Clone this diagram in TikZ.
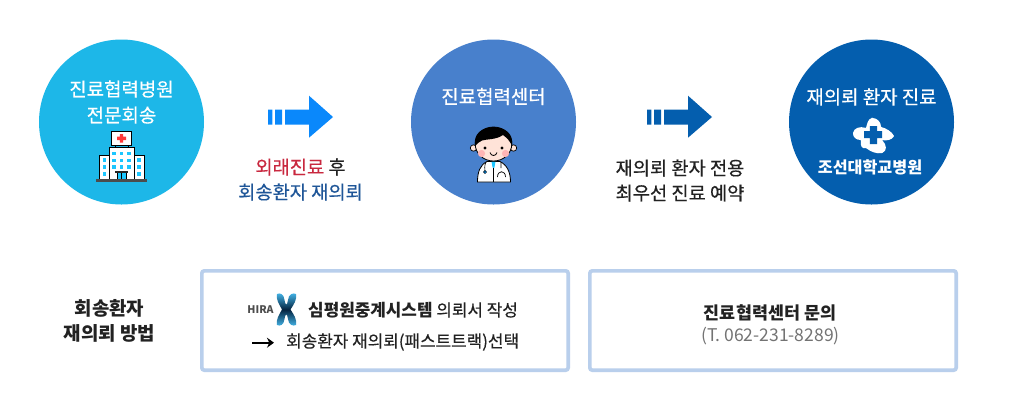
\documentclass[tikz,border=0pt]{standalone}
\usepackage{fontspec}
\setmainfont{Noto Sans CJK KR}
\newfontfamily\medf[FakeBold=0.4]{Noto Sans CJK KR}
\usetikzlibrary{arrows.meta}
\definecolor{cyanc}{HTML}{1DB7E8}
\definecolor{midc}{HTML}{4880CC}
\definecolor{deepc}{HTML}{045EAE}
\definecolor{arrowa}{HTML}{0A88FB}
\definecolor{boxc}{HTML}{B9CFEC}
\definecolor{redt}{HTML}{C9283F}
\definecolor{bluet}{HTML}{1F5698}
\definecolor{darkt}{HTML}{222222}
\definecolor{windowc}{HTML}{1CC6FF}
\definecolor{skin}{HTML}{FFE3D8}
\definecolor{cheek}{HTML}{FFB5B5}
\definecolor{hiralight}{HTML}{45B8EC}
\definecolor{hiradark}{HTML}{04233F}
\tikzset{
  bubble/.style={circle,minimum size=165pt,inner sep=0pt,draw=none},
  lbl/.style={inner sep=0pt,align=center,text=darkt},
  big/.style={font=\medf\fontsize{18.9}{26}\selectfont},
  mid/.style={font=\medf\fontsize{18.7}{25}\selectfont},
  small/.style={font=\medf\fontsize{16.9}{24}\selectfont},
  panel/.style={draw=boxc,line width=3.6pt,rounded corners=2.5pt,fill=white},
  win/.style={fill=windowc,draw=none},
  wall/.style={fill=white,draw=black,line width=.8pt},
}
\begin{document}
\begin{tikzpicture}[x=1pt,y=-1pt]
\useasboundingbox (0,0) rectangle (1009,416);
\fill[white] (0,0) rectangle (1009,416);
% circles
\node[bubble,fill=cyanc] (c1) at (121.5,122) {};
\node[bubble,fill=midc]  (c2) at (493.5,122) {};
\node[bubble,fill=deepc] (c3) at (871.5,122) {};
% circle texts
\node[lbl,big,text=white] (t1) at (121.5,102) {진료협력병원\\전문회송};
\node[lbl,big,text=white] (t2) at (493.5,96.5) {진료협력센터};
\node[lbl,big,text=white] (t3) at (871.5,97) {재의뢰 환자 진료};
\node[lbl,text=white,font=\fontsize{16.2}{20}\selectfont\bfseries] (t4) at (870,167) {조선대학교병원};
% arrows
\fill[arrowa] (268,109.5) rectangle (272.3,124.7) (275,109.5) rectangle (282,124.7);
\fill[arrowa] (285,109.5) -- (309,109.5) -- (309,95.7) -- (333,117) -- (309,137.7) -- (309,124.7) -- (285,124.7) -- cycle;
\fill[deepc] (647,109.5) rectangle (651.3,124.7) (654,109.5) rectangle (661,124.7);
\fill[deepc] (664,109.5) -- (688,109.5) -- (688,95.7) -- (712,117) -- (688,137.7) -- (688,124.7) -- (664,124.7) -- cycle;
% arrow texts
\node[lbl,mid] (a1) at (300.5,179.5) {\textcolor{redt}{외래진료} 후\\\textcolor{bluet}{회송환자 재의뢰}};
\node[lbl,mid] (a2) at (680,180.5) {재의뢰 환자 전용\\최우선 진료 예약};
% hospital icon
\draw[black,line width=.8pt] (115,145) -- (115,148) (128,145) -- (128,148);
\draw[wall] (111.5,131.5) rectangle (131.5,145);
\fill[red!70!pink] (119.8,134) rectangle (123.2,142.5) (117,136.6) rectangle (126,140);
\draw[wall] (99.5,155.5) rectangle (144,179.5);
\draw[wall] (109.5,147.5) rectangle (134,179.5);
\foreach \px in {114,121.5,129} \foreach \py in {153.5,160.5,167}
  \fill[win] (\px-1.8,\py-1.8) rectangle (\px+1.8,\py+1.8);
\foreach \px in {104.5,139} \foreach \py in {160,167,174}
  \fill[win] (\px-1.8,\py-1.8) rectangle (\px+1.8,\py+1.8);
\fill[windowc] (117,173) rectangle (126,179);
\draw[black,line width=.8pt] (117,173) -- (117,179) (121.5,173) -- (121.5,179) (126,173) -- (126,179);
\fill[black!85] (115,171) rectangle (128,173.3);
\fill[black!70] (96,179.3) rectangle (147,182);
% doctor icon
\draw[black,line width=.7pt,fill=skin] (473.5,148) circle[radius=3.2] (513.5,148) circle[radius=3.2];
\draw[black,line width=.8pt,fill=white] (477.5,182) .. controls (477.5,172) and (480,165) .. (487,161.5) -- (500,161.5) .. controls (507,165) and (510.5,172) .. (510.5,182) -- cycle;
\fill[windowc] (491.5,161.5) -- (495.5,161.5) -- (494.5,167) -- (493.5,169) -- (492.5,167) -- cycle;
\draw[black,line width=.6pt] (493.5,168) -- (493.5,182);
\draw[black,line width=.6pt] (486,162) .. controls (484,166) and (485,169) .. (485,172);
\fill[blue!40!cyan,draw=black,line width=.5pt] (485,172) circle[radius=1.6];
\draw[black,line width=.7pt] (501,162) -- (501,168) (497.5,177) .. controls (497.5,170) and (505.5,170) .. (505.5,177);
\fill[skin,draw=black,line width=.8pt] (493.5,144) ellipse[x radius=18.3,y radius=17];
\fill[black] (475,146) .. controls (473,134) and (482,127) .. (493.5,127) .. controls (505,127) and (514,134) .. (512,146) .. controls (510,141) and (507,138) .. (503,135) .. controls (496,140) and (486,139) .. (482,140.5) .. controls (479,142) and (476.5,144) .. (475,146) -- cycle;
\fill[black] (485,148) circle[radius=1.7] (502,148) circle[radius=1.7];
\fill[cheek] (481.5,153.5) circle[radius=3.6] (505.5,153.5) circle[radius=3.6];
\draw[black,line width=.8pt] (490,152.5) .. controls (491,156.5) and (496,156.5) .. (497,152.5);
% Chosun logo
\fill[white,rounded corners=.5pt] (872,118) .. controls (877,118) and (881,122) .. (881,127) .. controls (886,128) and (892,132) .. (894,136) .. controls (892,140) and (886,141) .. (882,140) .. controls (887,145) and (887,151) .. (882,153) .. controls (877,154) and (871,152) .. (866,148) .. controls (862,149) and (860,146) .. (861,140) .. controls (856,140) and (853,137) .. (853,133) .. controls (854,128) and (860,126) .. (866,128) .. controls (867,124) and (868,119) .. (872,118) -- cycle;
\fill[deepc] (869.8,126) rectangle (877,144) (864,131.2) rectangle (882,138.2);
% panels
\draw[panel] (201.8,270.8) rectangle (568.2,370.2);
\draw[panel] (589.8,270.8) rectangle (956.2,370.2);
\node[lbl,font=\fontsize{18.9}{25}\selectfont\bfseries] (m1) at (109.5,320.5) {회송환자\\재의뢰 방법};
\node[lbl,small,anchor=west] (p1) at (308,310) {{\fontsize{16.9}{24}\selectfont\normalfont\bfseries 심평원중계시스템} 의뢰서 작성};
\node[lbl,small,anchor=west] (p2) at (286,342) {회송환자 재의뢰(패스트트랙)선택};
\coordinate (q0) at (252,342.7);
\coordinate (q1) at (274,342.7);
\draw[-{Stealth[length=7pt,width=10pt]},black,line width=1.8pt] (q0) -- (q1);
\node[lbl,font=\fontsize{17.4}{24}\selectfont\bfseries] (p3) at (770,312.5) {진료협력센터 문의};
\node[lbl,text=black!55,font=\fontsize{17.5}{24}\selectfont] (p4) at (770.5,336) {(T. 062-231-8289)};
% HIRA logo
\node[inner sep=0pt,text=black!70,font=\fontsize{10.5}{11}\selectfont\bfseries] (h) at (260.5,309.5) {HIRA};
\shade[top color=hiralight,bottom color=hiralight,middle color=hiradark]
 (277,294) .. controls (280,292.5) and (284,294) .. (284.5,300) .. controls (285,303) and (285.5,304.5) .. (286.3,304.5) .. controls (287,304.5) and (287.5,303) .. (288,300) .. controls (288.5,294) and (293,292.5) .. (296,294) .. controls (297,300) and (294,304) .. (290.5,309.5) .. controls (294,315) and (297,319) .. (296,325) .. controls (293,326.5) and (288.5,325) .. (288,319) .. controls (287.5,316) and (287,314.5) .. (286.3,314.5) .. controls (285.5,314.5) and (285,316) .. (284.5,319) .. controls (284,325) and (280,326.5) .. (277,325) .. controls (276,319) and (279,315) .. (282,309.5) .. controls (279,304) and (276,300) .. (277,294) -- cycle;
\end{tikzpicture}
\end{document}
